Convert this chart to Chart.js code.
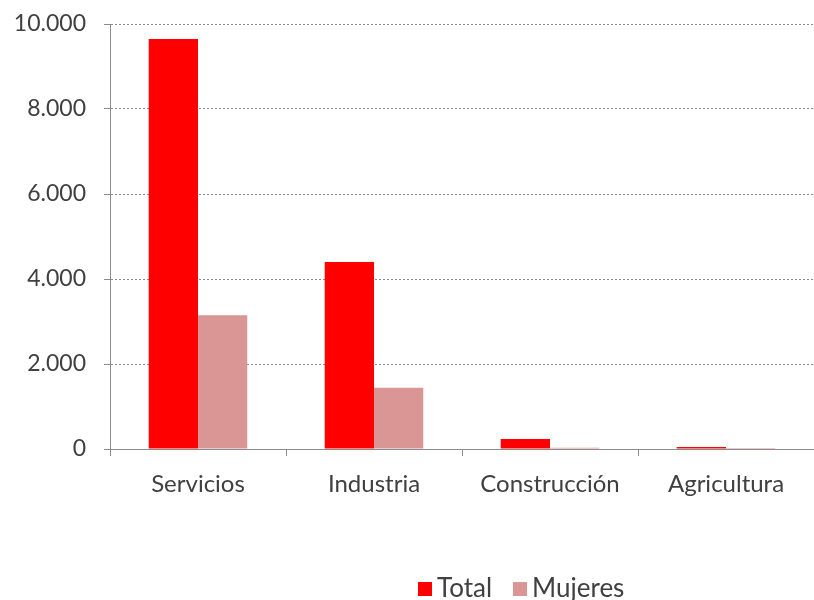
<!DOCTYPE html>
<html>
<head>
<meta charset="utf-8">
<script src="https://cdn.jsdelivr.net/npm/chart.js@4/dist/chart.umd.min.js"></script>
<style>
  html, body { margin: 0; padding: 0; background: #ffffff; }
  #wrap { position: relative; width: 814px; height: 600px; overflow: hidden; }
  #legend { position: absolute; top: 571px; left: 418px; font-family: Lato, "Open Sans", sans-serif; font-size: 26px; color: #404040; display: flex; align-items: center; white-space: nowrap; }
  .box { display: inline-block; width: 14px; height: 14px; margin-right: 5px; margin-top: 4px; }
  .item { display: flex; align-items: center; margin-right: 21px; }
</style>
</head>
<body>
<div id="wrap">
  <canvas id="c" width="814" height="600"></canvas>
  <div id="legend"></div>
</div>
<script>
const categories = ["Servicios", "Industria", "Construcción", "Agricultura"];
const seriesNames = ["Total", "Mujeres"];
const totalValues = [9650, 4400, 235, 50];
const mujeresValues = [3150, 1440, 30, 25];
const yTicks = [0, 2000, 4000, 6000, 8000, 10000];
const colors = ["#FF0000", "#D99694"];

function fmt(v) {
  return String(v).replace(/\B(?=(\d{3})+(?!\d))/g, ".");
}

const fontFamily = 'Lato, "Open Sans", sans-serif';
const textColor = "#404040";

new Chart(document.getElementById("c"), {
  type: "bar",
  data: {
    labels: categories,
    datasets: [
      { label: seriesNames[0], data: totalValues, backgroundColor: colors[0], categoryPercentage: 0.56, barPercentage: 1.0 },
      { label: seriesNames[1], data: mujeresValues, backgroundColor: colors[1], categoryPercentage: 0.56, barPercentage: 1.0 }
    ]
  },
  options: {
    responsive: false,
    animation: false,
    layout: { padding: { top: 24, right: 0, bottom: 0, left: 0 } },
    plugins: { legend: { display: false }, tooltip: { enabled: false } },
    scales: {
      x: {
        offset: true,
        afterFit: (s) => { s.height = 151; s.paddingLeft = 0; s.paddingRight = 0; },
        grid: { offset: true, drawOnChartArea: false, drawTicks: true, tickLength: 7, color: "#8c8c8c" },
        border: { color: "#8c8c8c", width: 1 },
        ticks: { color: textColor, font: { family: fontFamily, size: 24 }, padding: 14 }
      },
      y: {
        min: 0, max: 10000,
        afterFit: (s) => { s.width = 110; s.paddingTop = 0; s.paddingBottom = 0; },
        afterBuildTicks: (axis) => { axis.ticks = yTicks.map(v => ({ value: v })); },
        grid: { color: "#8a8a8a", tickLength: 6, tickColor: "#8c8c8c", lineWidth: 1, tickBorderDash: [] },
        border: { color: "#8c8c8c", width: 1, dash: [2, 2] },
        ticks: { color: textColor, font: { family: fontFamily, size: 23 }, padding: 18, callback: (v) => fmt(v) }
      }
    }
  }
});

const legend = document.getElementById("legend");
seriesNames.forEach((n, i) => {
  const it = document.createElement("span");
  it.className = "item";
  const b = document.createElement("span");
  b.className = "box";
  b.style.background = colors[i];
  it.appendChild(b);
  it.appendChild(document.createTextNode(n));
  legend.appendChild(it);
});
</script>
</body>
</html>
